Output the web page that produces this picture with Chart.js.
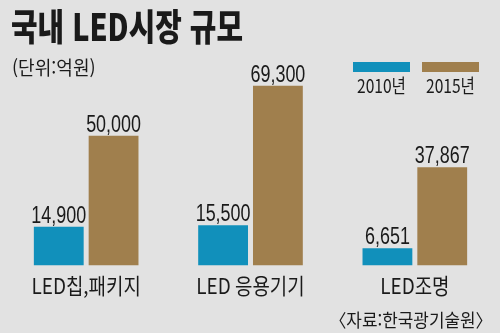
<!DOCTYPE html>
<html lang="ko">
<head>
<meta charset="utf-8">
<script src="https://cdn.jsdelivr.net/npm/chart.js@4.4.1/dist/chart.umd.min.js"></script>
<style>
  html, body { margin: 0; padding: 0; background: #e2e2e2; }
  #wrap { position: relative; width: 500px; height: 333px; overflow: hidden;
          font-family: "Noto Sans CJK KR", "Noto Sans", sans-serif; color: #1a1a1a; }
  #wrap canvas { position: absolute; left: 0; top: 0; }
  .txt { position: absolute; white-space: nowrap; line-height: 1; transform-origin: 0 0; }
  #title { left: 11px; top: 7px; font-size: 37px; font-weight: 900; transform: scaleX(.78); }
  #unit { left: 12px; top: 57px; font-size: 19px; transform: scaleX(.95); }
  .swatch { position: absolute; top: 62px; height: 10px; width: 57px; }
  .legtxt { top: 75px; font-size: 19px; transform: scaleX(.82); }
  #source { right: 7px; top: 310px; font-size: 18px; transform-origin: 100% 0; transform: scaleX(.94); }
</style>
</head>
<body>
<div id="wrap">
  <canvas id="chart" width="500" height="333"></canvas>
  <div class="txt" id="title">국내 LED시장 규모</div>
  <div class="txt" id="unit">(단위:억원)</div>
  <div class="swatch" style="left:353px;background:#1190bb;"></div>
  <div class="swatch" style="left:422px;background:#a07f4d;"></div>
  <div class="txt legtxt" id="leg0" style="left:357px;"></div>
  <div class="txt legtxt" id="leg1" style="left:426px;"></div>
  <div class="txt" id="source">〈자료:한국광기술원〉</div>
</div>
<script>
// 국내 LED시장 규모 (단위: 억원)
const categories = ['LED칩,패키지', 'LED 응용기기', 'LED조명'];
const seriesNames = ['2010년', '2015년'];
const values2010 = [14900, 15500, 6651];
const values2015 = [50000, 69300, 37867];

document.getElementById('leg0').textContent = seriesNames[0];
document.getElementById('leg1').textContent = seriesNames[1];

// draw text squeezed horizontally (the original uses a condensed gothic)
function drawSquashed(ctx, text, x, y, sx) {
  ctx.save();
  ctx.translate(x, y);
  ctx.scale(sx, 1);
  ctx.fillText(text, 0, 0);
  ctx.restore();
}

// ─── value labels + category labels ──────────────────────────
const barLabels = {
  id: 'barLabels',
  afterDatasetsDraw(chart) {
    const ctx = chart.ctx;
    ctx.save();
    ctx.fillStyle = '#1a1a1a';
    ctx.textAlign = 'center';

    ctx.font = '23px "Liberation Sans", Arial, sans-serif';
    ctx.textBaseline = 'alphabetic';
    chart.data.datasets.forEach((ds, di) => {
      chart.getDatasetMeta(di).data.forEach((bar, i) => {
        drawSquashed(ctx, ds.data[i].toLocaleString('en-US'), bar.x, bar.y - 4, 0.78);
      });
    });

    const xs = chart.scales.x;
    ctx.font = '22px "Noto Sans CJK KR", sans-serif';
    ctx.textBaseline = 'middle';
    categories.forEach((c, i) => {
      drawSquashed(ctx, c, xs.getPixelForValue(i), chart.chartArea.bottom + 20, 0.86);
    });
    ctx.restore();
  }
};

new Chart(document.getElementById('chart'), {
  type: 'bar',
  data: {
    labels: categories,
    datasets: [
      { label: seriesNames[0], data: values2010, backgroundColor: '#1190bb', borderWidth: 0 },
      { label: seriesNames[1], data: values2015, backgroundColor: '#a07f4d', borderWidth: 0 },
    ]
  },
  options: {
    responsive: false,
    devicePixelRatio: 1,
    animation: false,
    datasets: { bar: { categoryPercentage: 0.667, barPercentage: 0.909 } },
    layout: { padding: { left: 4, right: 3, top: 58, bottom: 67.5 } },
    plugins: { legend: { display: false }, tooltip: { enabled: false } },
    scales: {
      x: { display: false },
      y: { display: false, min: 0, max: 80000 },
    }
  },
  plugins: [barLabels]
});
</script>
</body>
</html>
